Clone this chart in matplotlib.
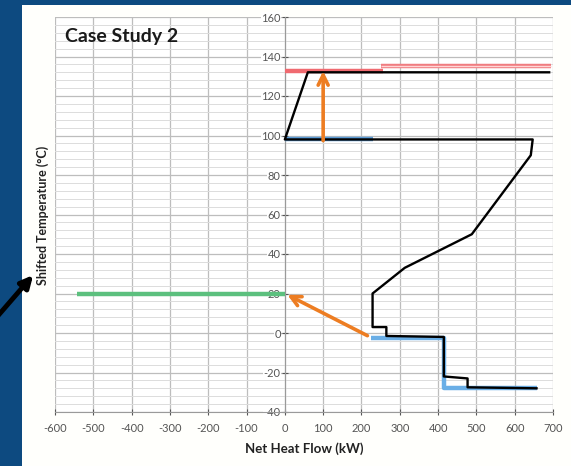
import matplotlib
matplotlib.use("Agg")
import matplotlib.pyplot as plt
from matplotlib.patches import Rectangle, FancyArrowPatch
from matplotlib.ticker import MultipleLocator

plt.rcParams['font.family'] = ['Lato', 'DejaVu Sans']
plt.rcParams['axes.unicode_minus'] = False

# Grand composite curve (net heat flow kW, shifted temperature °C)
gcc_q = [690, 60, 0, 647, 642, 488, 313, 229, 229, 265, 265, 415, 415, 477, 477, 657]
gcc_t = [132, 132, 98, 98, 90, 50, 33, 20, 3, 3, -1.5, -2, -22, -23, -27.5, -28]

# Cold-side segments (light blue)
blue_hi_q = [0, 230]
blue_hi_t = [98, 98]
blue_lo_q = [226, 415, 415, 657]
blue_lo_t = [-2.7, -2.7, -28, -28]

# Hot utility levels (red)
red_lo_q = [0, 255]
red_lo_t = [132.7, 132.7]
red_hi_q = [250, 695]
red_hi_t = [135.3, 135.3]

# Low-temperature level (green)
green_q = [-543, 0]
green_t = [20, 20]

# Heat transfer arrows: (start_q, start_t, end_q, end_t)
arrow_up = (100, 96, 100, 134)
arrow_diag = (222, -2, 0, 20)

x_ticks = list(range(-600, 701, 100))
y_ticks = list(range(-40, 161, 20))

W, H = 571, 466
fig = plt.figure(figsize=(W / 100, H / 100), dpi=100)
fig.patch.set_facecolor('#0d4a80')

# white slide panel
fig.patches.append(Rectangle((22 / W, 0), 1 - 22 / W, 1 - 5 / H,
                             transform=fig.transFigure, facecolor='#fffffc',
                             edgecolor='none', zorder=-5))

ax = fig.add_axes([55 / W, 1 - 412 / H, 498 / W, 395 / H])
ax.set_zorder(1)
ax.set_facecolor('white')
ax.set_xlim(-600, 700)
ax.set_ylim(-40, 160)

ax.xaxis.set_major_locator(MultipleLocator(100))
ax.yaxis.set_major_locator(MultipleLocator(20))
ax.yaxis.set_minor_locator(MultipleLocator(4))
ax.grid(which='major', color='#bdbdbd', lw=0.9)
ax.grid(which='minor', axis='y', color='#dcdcdc', lw=0.7)
ax.set_axisbelow(True)

for s in ['top', 'right']:
    ax.spines[s].set_visible(False)
ax.spines['left'].set_position(('data', 0))
ax.spines['left'].set_color('#9a9a9a')
ax.spines['bottom'].set_color('#9a9a9a')

ax.set_xticks(x_ticks)
ax.set_yticks(y_ticks)
ax.tick_params(axis='both', which='major', labelsize=8, colors='#555555',
               length=4, width=0.8, direction='inout')
ax.tick_params(axis='y', which='minor', length=0)
ax.tick_params(axis='x', pad=6)
ax.tick_params(axis='y', pad=1)
ax.set_yticklabels([str(v) for v in y_ticks])
ax.set_xticklabels([str(v) for v in x_ticks])
for lbl in ax.get_yticklabels():
    lbl.set_bbox(dict(facecolor='white', edgecolor='none', pad=0.5))

ax.set_xlabel('Net Heat Flow (kW)', fontsize=9.5, fontweight='bold',
              color='#222222', labelpad=6)
fig.text(43 / W, 1 - 215 / H, 'Shifted Temperature (°C)', rotation=90,
         fontsize=9, fontweight='bold', color='#222222',
         ha='center', va='center')

ax.text(-575, 150, 'Case Study 2', fontsize=14, fontweight='bold',
        color='#1a1a1a', ha='left', va='center')

# curves
ax.plot(red_hi_q, red_hi_t, color='#f07c80', lw=3.2, solid_capstyle='butt', zorder=3)
ax.plot(red_hi_q, red_hi_t, color='#ffd6d6', lw=1.0, solid_capstyle='butt', zorder=3)
ax.plot(red_lo_q, red_lo_t, color='#f06a70', lw=3.2, solid_capstyle='butt', zorder=3)
ax.plot(blue_hi_q, blue_hi_t, color='#5b9bd5', lw=3.2, solid_capstyle='butt', zorder=3)
ax.plot(blue_lo_q, blue_lo_t, color='#6aaee6', lw=3.2, solid_capstyle='butt', zorder=3)
ax.plot(green_q, green_t, color='#5cc07e', lw=3.2, solid_capstyle='butt', zorder=3)
ax.plot(gcc_q, gcc_t, color='black', lw=1.7, zorder=4)

for q0, t0, q1, t1 in (arrow_up, arrow_diag):
    ax.add_patch(FancyArrowPatch((q0, t0), (q1, t1), arrowstyle='->',
                                 mutation_scale=18, color='#ed7d22',
                                 lw=2.6, zorder=5))

# pointer arrow at the axis title
fig.patches.append(FancyArrowPatch((-4 / W, 1 - 318 / H), (35 / W, 1 - 273 / H),
                                   transform=fig.transFigure, arrowstyle='-|>',
                                   mutation_scale=18, color='black', lw=3.5,
                                   zorder=6))

fig.savefig('out.png', dpi=100, facecolor=fig.get_facecolor())
